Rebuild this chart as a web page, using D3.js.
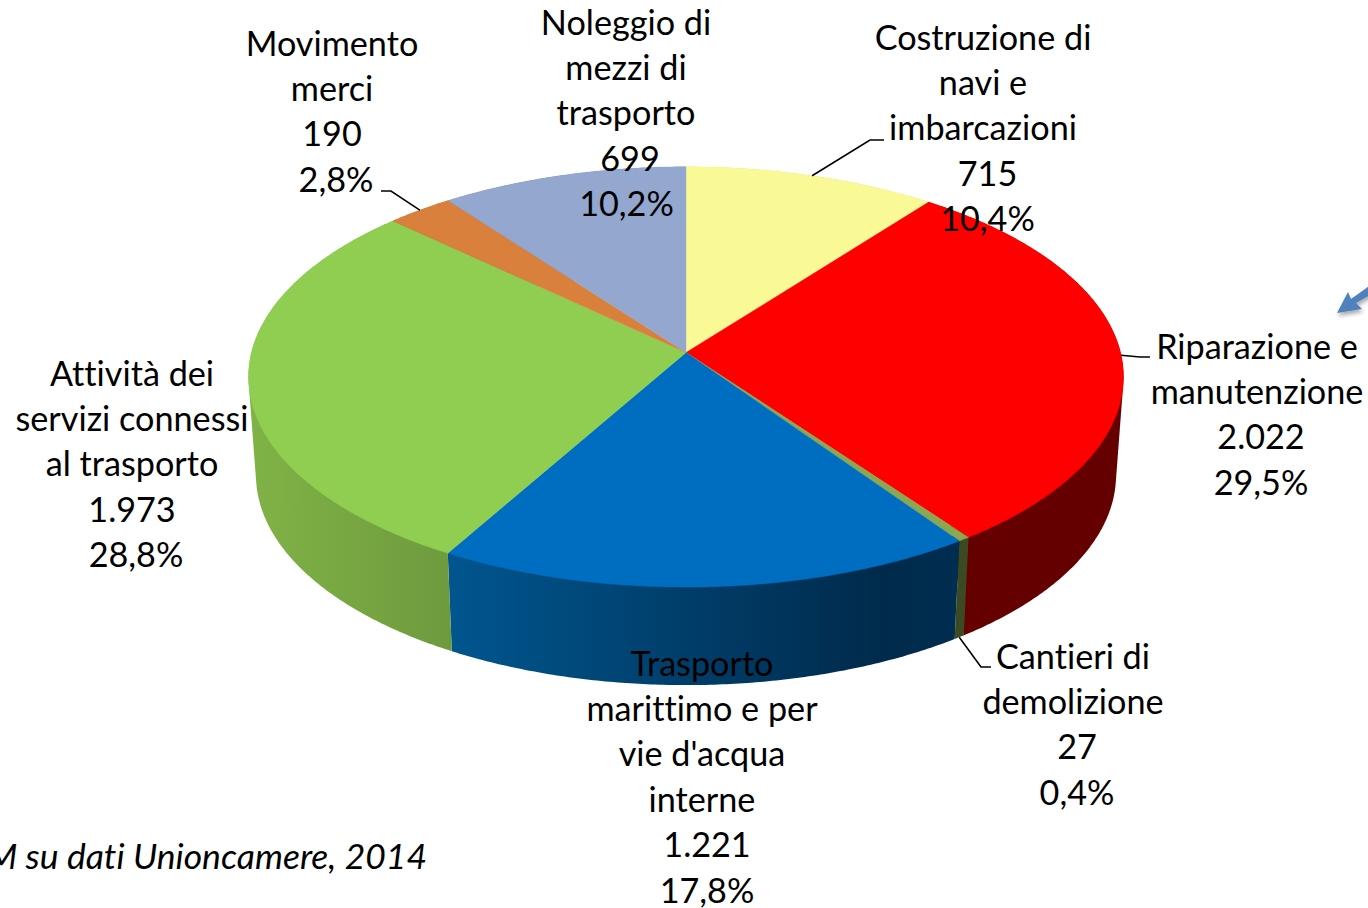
<!DOCTYPE html>
<html lang="it">
<head>
<meta charset="utf-8">
<script src="https://cdnjs.cloudflare.com/ajax/libs/d3/7.9.0/d3.min.js"></script>
<style>
html,body{margin:0;padding:0;background:#fff;overflow:hidden}
svg{display:block}
text{font-family:Lato,"Open Sans",sans-serif;fill:#000;font-variant-ligatures:none;font-feature-settings:"liga" 0,"clig" 0}
</style>
</head>
<body>
<svg id="chart" width="1368" height="908"></svg>
<script>
// ---- data ----
const categories = ["Costruzione di navi e imbarcazioni","Riparazione e manutenzione","Cantieri di demolizione","Trasporto marittimo e per vie d'acqua interne","Attività dei servizi connessi al trasporto","Movimento merci","Noleggio di mezzi di trasporto"];
const values = [715,2022,27,1221,1973,190,699];
const nameLines = [
  ["Costruzione di","navi e","imbarcazioni"],
  ["Riparazione e","manutenzione"],
  ["Cantieri di","demolizione"],
  ["Trasporto","marittimo e per","vie d'acqua","interne"],
  ["Attività dei","servizi connessi","al trasporto"],
  ["Movimento","merci"],
  ["Noleggio di","mezzi di","trasporto"]
];
const sourceNote = "M su dati Unioncamere, 2014";

// ---- styles ----
const topColours = ["#f9f996","#ff0000","#8aa84f","#006ec0","#8fce50","#d8803c","#93a7cf"];
const sideStops = [["#c8c878"],["#640000"],["#3b4a22"],["#00568f","#002a4b","#002e50"],["#80b346","#6e9a3e"],["#a05a28"],["#6b7ea5"]];

// ---- layout ----
const W = 1368, H = 908;
const geo = {cx:686, cy:352.5, a:434.5, b:207.3, k:0.1164, depth:98, shrink:0.983};
const lineStep = 45.4;
const fontPx = 34.2;
// name centre, value centre, percent centre, first baseline
const labelPos = [
  {nx:983,vx:987.5,px:987.5,y:49.5},
  {nx:1257,vx:1261,px:1261,y:358.5},
  {nx:1073,vx:1077,px:1077,y:668.5},
  {nx:702,vx:707,px:707,y:675.5},
  {nx:132,vx:132,px:136,y:385.5},
  {nx:332,vx:332,px:336,y:55.5},
  {nx:626,vx:630,px:626.5,y:34.5}
];
// leader elbows: null when a slice has none
const leaderElbows = [
  [[870,140],[884,140]],
  [[1140,357],[1150,357]],
  [[981,667],[991,667]],
  null,
  null,
  [[391,191],[381,191]],
  null
];

const itLocale = d3.formatLocale({decimal:",",thousands:".",grouping:[3],currency:["","€"]});
const fmtValue = itLocale.format(",d");
const fmtPct = itLocale.format(".1%");

const svg = d3.select("#chart");
const defs = svg.append("defs");

// perspective projection of a point on the unit-disc pie
function project(angle, r){
  const u = r*Math.sin(angle), v = -r*Math.cos(angle);
  const d = 1 - geo.k*v;
  return [geo.cx + geo.a*u/d, geo.cy + geo.b*v/d];
}
function projectBottom(angle, r){
  const p = project(angle, r);
  return [geo.cx + (p[0]-geo.cx)*geo.shrink, p[1] + geo.depth];
}
const rad = Math.PI/180;
function arcAngles(a0,a1){
  const n = Math.max(2, Math.ceil((a1-a0)/(0.5*rad)));
  return d3.range(n+1).map(i => a0 + (a1-a0)*i/n);
}
const path = d3.line().curve(d3.curveLinearClosed);
const slices = d3.pie().sort(null).startAngle(0).endAngle(2*Math.PI)(values);
const total = d3.sum(values);

// side walls: the hull of the top and bottom arcs (the top face hides the upper part)
slices.forEach((s,i)=>{
  const angles = arcAngles(s.startAngle,s.endAngle);
  const xs = angles.map(a=>project(a,1)[0]).concat(angles.map(a=>projectBottom(a,1)[0]));
  const stops = sideStops[i];
  const grad = defs.append("linearGradient").attr("id","side"+i)
    .attr("gradientUnits","userSpaceOnUse")
    .attr("x1",d3.min(xs)).attr("x2",d3.max(xs)).attr("y1",0).attr("y2",0);
  stops.forEach((c,j)=>grad.append("stop")
    .attr("offset",stops.length>2 ? [0,0.85,1][j] : (stops.length===1?0:j))
    .attr("stop-color",c));
});
const sideG = svg.append("g");
slices.forEach((s,i)=>{
  const angles = arcAngles(s.startAngle,s.endAngle);
  const pts = angles.map(a=>project(a,1)).concat(angles.map(a=>projectBottom(a,1)));
  sideG.append("path").attr("d",path(d3.polygonHull(pts))).attr("fill","url(#side"+i+")");
});

// top face
const topG = svg.append("g");
slices.forEach((s,i)=>{
  const pts = [[geo.cx,geo.cy]].concat(arcAngles(s.startAngle,s.endAngle).map(a=>project(a,1)));
  topG.append("path").attr("d",path(pts)).attr("fill",topColours[i])
    .attr("stroke",topColours[i]).attr("stroke-width",0.4);
});

// leader lines
const leader = d3.line();
slices.forEach((s,i)=>{
  if(!leaderElbows[i]) return;
  const mid = (s.startAngle+s.endAngle)/2;
  const start = (i===2) ? projectBottom(mid,1) : project(mid,1);
  svg.append("path").attr("d",leader([start].concat(leaderElbows[i])))
    .attr("fill","none").attr("stroke","#000").attr("stroke-width",1.6);
});

// labels
values.forEach((v,i)=>{
  const pos = labelPos[i];
  const g = svg.append("g").attr("text-anchor","middle").attr("font-size",fontPx);
  const rows = nameLines[i].map(t=>({t,x:pos.nx}));
  rows.push({t:fmtValue(v),x:pos.vx});
  rows.push({t:fmtPct(v/total),x:pos.px});
  rows.forEach((r,j)=>g.append("text").attr("x",r.x).attr("y",pos.y+j*lineStep).text(r.t));
});

// source note
svg.append("text").attr("x",427).attr("y",869).attr("text-anchor","end")
  .attr("font-size",35.5).attr("font-style","italic").text(sourceNote);

// blue callout arrow, clipped by the page edge
const blur = defs.append("filter").attr("id","arrowShadow").attr("x","-30%").attr("y","-30%").attr("width","170%").attr("height","170%");
blur.append("feDropShadow").attr("dx",1).attr("dy",3).attr("stdDeviation",2).attr("flood-color","#000").attr("flood-opacity",0.35);
svg.append("path")
  .attr("d",path([[1337,313],[1348,292],[1351,299],[1372,284],[1372,294],[1356,303],[1362,309]]))
  .attr("fill","#4f81bd").attr("filter","url(#arrowShadow)");
</script>
</body>
</html>
